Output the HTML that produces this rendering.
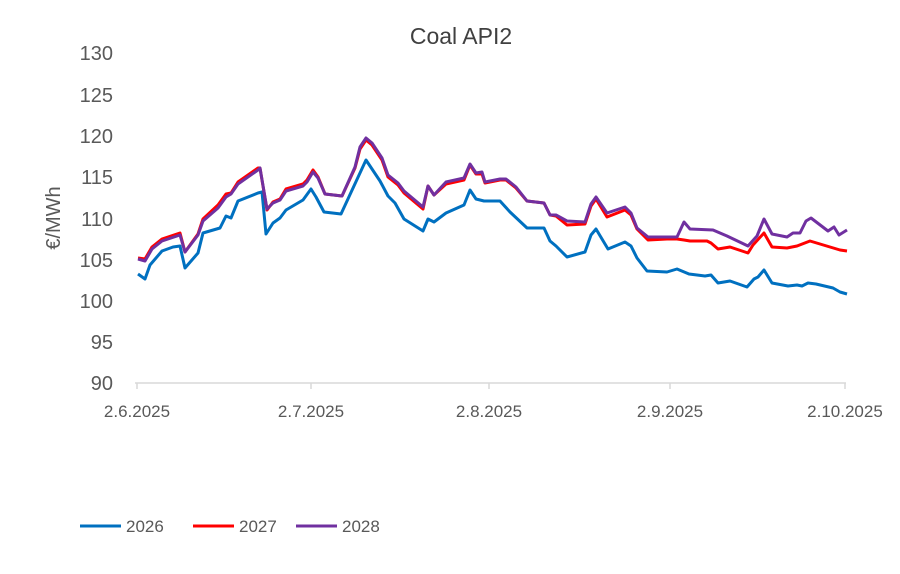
<!DOCTYPE html>
<html><head><meta charset="utf-8"><style>body{margin:0;background:#fff}svg{display:block;font-family:"Liberation Sans",sans-serif}</style></head><body>
<svg width="900" height="574" viewBox="0 0 900 574">
<text x="461" y="44" text-anchor="middle" font-size="23" fill="#404040">Coal API2</text>
<g font-size="20" fill="#595959" text-anchor="end">
<text x="113" y="60">130</text><text x="113" y="102">125</text><text x="113" y="143">120</text><text x="113" y="184">115</text><text x="113" y="226">110</text><text x="113" y="267">105</text><text x="113" y="308">100</text><text x="113" y="349">95</text><text x="113" y="390">90</text>
</g>
<text transform="translate(60,218) rotate(-90)" text-anchor="middle" font-size="20" fill="#595959">€/MWh</text>
<line x1="135" y1="383" x2="846" y2="383" stroke="#d9d9d9" stroke-width="1.5"/>
<g stroke="#d9d9d9" stroke-width="1.5"><line x1="137" y1="383" x2="137" y2="389"/><line x1="311" y1="383" x2="311" y2="389"/><line x1="489" y1="383" x2="489" y2="389"/><line x1="670" y1="383" x2="670" y2="389"/><line x1="845" y1="383" x2="845" y2="389"/></g>
<g font-size="17" fill="#595959" text-anchor="middle">
<text x="137" y="417">2.6.2025</text><text x="311" y="417">2.7.2025</text><text x="489" y="417">2.8.2025</text><text x="670" y="417">2.9.2025</text><text x="845" y="417">2.10.2025</text>
</g>
<g fill="none" stroke-width="3" stroke-linejoin="round">
<polyline stroke="#0070c0" points="138,274 145,279 150,265 162,251 173,247 180,246 185,268 198,253 203,233 220,228 226,216 231,218 238,201 258,193 262,192 266,234 273,223 280,218 286,210 303,200 311,189 316,197 324,212 341,214 366,160 380,181 388,196 395,203 404,219 423,231 428,219 434,222 446,213 464,205 470,190 476,199 484,201 500,201 510,212 527,228 544,228 550,241 556,246 567,257 585,252 591,235 596,229 608,249 625,242 631,246 637,258 647,271 667,272 677,269 689,274 705,276 711,275 718,283 730,281 747,287 754,279 758,277 764,270 772,283 788,286 797,285 802,286 808,283 816,284 833,288 840,292 847,294"/>
<polyline stroke="#ff0000" points="138,258 145,259 152,247 162,239 180,233 185,252 198,234 203,219 218,205 226,194 231,193 238,182 258,168 260,168 267,210 273,202 280,199 286,189 303,184 307,180 313,170 318,177 325,194 342,196 355,168 360,149 366,140 372,145 382,160 388,177 398,185 404,193 423,209 428,186 434,195 446,184 464,180 470,165 476,174 482,174 485,183 500,180 506,180 516,188 527,201 544,203 550,215 556,216 567,225 585,224 591,206 596,199 607,217 625,210 631,215 637,229 648,240 667,239 677,239 684,240 690,241 707,241 711,243 718,249 730,247 748,253 753,245 764,233 772,247 787,248 797,246 810,241 830,247 840,250 847,251"/>
<polyline stroke="#7030a0" points="138,259 145,261 152,249 162,241 180,235 185,252 198,235 203,221 218,208 226,197 231,194 238,184 258,170 260,168 267,209 273,203 280,200 286,191 303,186 307,182 313,172 318,178 325,194 342,196 355,167 360,147 366,138 372,143 382,158 388,175 398,183 404,191 423,207 428,186 434,195 446,182 464,178 470,164 476,173 482,172 485,182 500,179 506,179 516,187 527,201 544,203 550,215 556,215 567,221 585,222 591,204 596,197 607,213 625,207 631,213 637,228 648,237 667,237 677,237 684,222 690,229 713,230 727,236 748,246 757,236 764,219 772,234 787,237 793,233 800,233 806,221 811,218 828,231 834,227 839,235 847,230"/>
</g>
<g font-size="17" fill="#595959">
<line x1="80" y1="526" x2="121" y2="526" stroke="#0070c0" stroke-width="3"/><text x="126" y="532">2026</text>
<line x1="193" y1="526" x2="234" y2="526" stroke="#ff0000" stroke-width="3"/><text x="239" y="532">2027</text>
<line x1="296" y1="526" x2="337" y2="526" stroke="#7030a0" stroke-width="3"/><text x="342" y="532">2028</text>
</g>
</svg>
</body></html>
